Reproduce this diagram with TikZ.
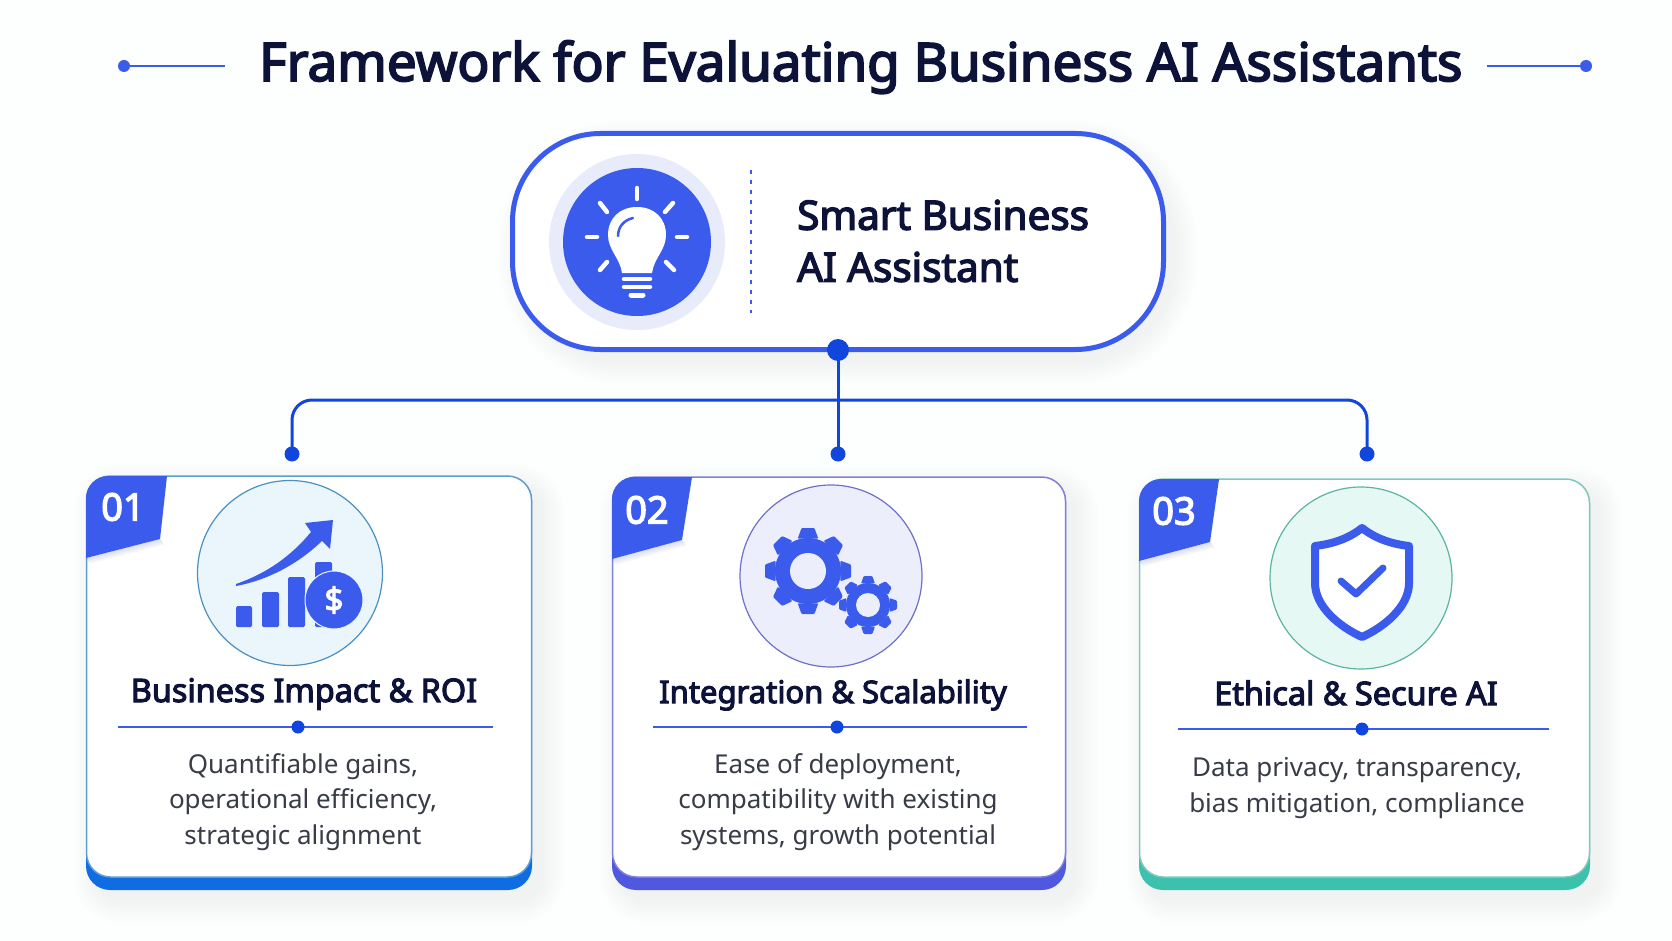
\documentclass[tikz,border=0pt]{standalone}
\usepackage{fontspec}
\setmainfont{Noto Sans}
\newfontfamily\headfont{Noto Sans}[FakeBold=3.4]
\usetikzlibrary{positioning,calc}
\definecolor{bgc}{HTML}{FDFEFE}
\definecolor{mainblue}{HTML}{3A5BEC}
\definecolor{connblue}{HTML}{1146DE}
\definecolor{inktext}{HTML}{0C1238}
\definecolor{bodytext}{HTML}{383C47}
\definecolor{haloc}{HTML}{E8ECFA}
\definecolor{shadowc}{HTML}{5A6A9A}
\definecolor{cardA}{HTML}{5F9FD0}\definecolor{bandA}{HTML}{0F6CE3}\definecolor{discA}{HTML}{EAF6FC}\definecolor{ringA}{HTML}{4A90C0}
\definecolor{cardB}{HTML}{7F7FDC}\definecolor{bandB}{HTML}{5058E0}\definecolor{discB}{HTML}{ECEFFB}\definecolor{ringB}{HTML}{6F6FC8}
\definecolor{cardC}{HTML}{7FC9BC}\definecolor{bandC}{HTML}{3CC1AE}\definecolor{discC}{HTML}{E6F8F3}\definecolor{ringC}{HTML}{5AB5A0}
\newcommand{\softshade}[5]{%
  \foreach \i in {1,...,12}{%
    \pgfmathsetmacro{\rr}{#5+\i*2}%
    \pgfmathsetmacro{\gg}{\i*2}%
    \fill[shadowc,opacity=.0045,rounded corners=\rr pt]
      (#1-\gg+10,#2-\gg+11) rectangle (#3+\gg+10,#4+\gg+11);
  }}
\newcommand{\tabshade}[4]{% lower edge of a number tab
  \foreach \i in {1,...,4}{%
    \fill[shadowc,opacity=.05] (#1,#2) -- (#3,#4) -- (#3+\i*1.2,#4+\i*1.4) -- (#1+\i,#2+\i*1.4) -- cycle;
  }}
\newcommand{\gearicon}[6]{% x y outer root hole colour-of-hole
  \begin{scope}[shift={(#1,#2)}]
    \foreach \a in {0,45,...,315}{%
      \fill[mainblue,rotate=\a,rounded corners=1pt]
        (-#3*.24,-#4*.98) -- (-#3*.15,-#3) -- (#3*.15,-#3) -- (#3*.24,-#4*.98) -- cycle;
    }
    \fill[mainblue] (0,0) circle[radius=#4];
    \fill[#6] (0,0) circle[radius=#5];
  \end{scope}}
\tikzset{
  x=1pt,y=-1pt,
  pagetitle/.style={font=\headfont\fontsize{53}{60}\selectfont,text=inktext,anchor=base west,inner sep=0},
  hubbox/.style={draw=mainblue,line width=5pt,fill=white,rounded corners=88pt,minimum width=651pt,minimum height=216pt,inner sep=0,outer sep=0,anchor=north west},
  hubtext/.style={font=\headfont\fontsize{40.4}{52}\selectfont,text=inktext,align=left,anchor=west,inner sep=0},
  conn/.style={connblue,line width=3pt},
  bigdot/.style={circle,fill=connblue,inner sep=0,minimum size=22pt},
  smalldot/.style={circle,fill=connblue,inner sep=0,minimum size=15pt},
  rulerdot/.style={circle,fill=connblue,inner sep=0,minimum size=13pt},
  titledot/.style={circle,fill=mainblue,inner sep=0,minimum size=12pt},
  titlerule/.style={mainblue,line width=2pt},
  cardrule/.style={mainblue,line width=1.6pt},
  cardband/.style={rounded corners=24pt,inner sep=0,outer sep=0,anchor=north west,minimum height=414pt},
  cardface/.style={fill=white,line width=1.5pt,rounded corners=24pt,inner sep=0,outer sep=0,anchor=north west,minimum height=401pt},
  disc/.style={circle,inner sep=0,minimum size=182pt,line width=1.2pt},
  cardtitle/.style={font=\headfont\fontsize{32.4}{36}\selectfont,text=inktext,anchor=base,inner sep=0},
  carddesc/.style={font=\fontsize{26}{35.3}\selectfont,text=bodytext,align=center,inner sep=0},
  tabnum/.style={font=\headfont\fontsize{38}{40}\selectfont,text=white,inner sep=0},
  ray/.style={white,line width=4.5pt,line cap=round},
}
\begin{document}
\begin{tikzpicture}
\useasboundingbox (0,0) rectangle (1672,941);
\fill[bgc] (0,0) rectangle (1672,941);

% title
\node[pagetitle] (title) at (259,81) {Framework for Evaluating Business AI Assistants};
\node[titledot] (tl) at (124,66) {};
\coordinate (tle) at (225,66);
\draw[titlerule] (tl) -- (tle);
\node[titledot] (tr) at (1586,66) {};
\coordinate (tre) at (1487,66);
\draw[titlerule] (tr) -- (tre);

% hub
\softshade{512}{133}{1164}{350}{100}
\node[hubbox] (hub) at (512.5,133.5) {};
\node[circle,fill=haloc,inner sep=0,minimum size=176pt] (halo) at (637,242) {};
\node[circle,fill=mainblue,inner sep=0,minimum size=148pt] (lamp) at (637,242) {};
% bulb
\fill[white] (622,273) .. controls (620,258) and (608,250) .. (608,235)
   .. controls (608,218) and (620,207) .. (637,207)
   .. controls (654,207) and (666,218) .. (666,235)
   .. controls (666,250) and (654,258) .. (652,273) -- cycle;
\draw[mainblue,line width=2.5pt,line cap=round] (618,236) .. controls (618,227) and (624,220) .. (633,218);
\draw[white,line width=4.5pt,line cap=round] (624,279) -- (650,279);
\draw[white,line width=4.5pt,line cap=round] (624,287) -- (650,287);
\draw[white,line width=5pt,line cap=round] (631,295) -- (643,295);
\draw[ray] (637,188) -- (637,199);
\draw[ray] (587,237) -- (597,237);
\draw[ray] (677,237) -- (687,237);
\draw[ray] (600,203) -- (607,212);
\draw[ray] (673,203) -- (665,212);
\draw[ray] (600,270) -- (607,262);
\draw[ray] (674,270) -- (666,262);
\coordinate (sepA) at (751,170);
\coordinate (sepB) at (751,313);
\draw[mainblue,line width=2pt,dash pattern=on 4pt off 6pt] (sepA) -- (sepB);
\node[hubtext] (hubt) at (797,241) {Smart Business\\AI Assistant};

% connectors
\node[smalldot] (d1) at (292,454) {};
\node[smalldot] (d2) at (838,454) {};
\node[smalldot] (d3) at (1367,454) {};
\node[bigdot] (hubdot) at (838,350) {};
\coordinate (junction) at (838,400);
\draw[conn] (hubdot.center) -- (d2.center);
\draw[conn,rounded corners=20pt] (d1.center) |- (junction) -| (d3.center);

% ---------- card 1
\softshade{87}{477}{531}{889}{24}
\node[cardband,fill=bandA,minimum width=446pt] (band1) at (86,476) {};
\node[cardface,draw=cardA,minimum width=445pt] (card1) at (86.5,476) {};
\tabshade{86}{558}{160}{539}
\fill[mainblue] (86,558) -- (86,498) arc[start angle=180,end angle=270,radius=22] -- (167,476) -- (160,539) -- cycle;
\node[tabnum] (n1) at (123,507) {01};
\node[disc,fill=discA,draw=ringA,minimum size=185pt] (i1) at (290,573) {};
\fill[mainblue,rounded corners=1.5pt] (236,606) rectangle (252,627);
\fill[mainblue,rounded corners=1.5pt] (262,592) rectangle (279,627);
\fill[mainblue,rounded corners=1.5pt] (288,577) rectangle (305,627);
\fill[mainblue,rounded corners=1.5pt] (315,562) rectangle (332,627);
\fill[mainblue] (236,584) .. controls (268,573) and (292,555) .. (311,532)
  -- (305,523) -- (333,520) -- (330,549) -- (322,541)
  .. controls (298,564) and (268,580) .. (236,586) -- cycle;
\node[circle,fill=mainblue,draw=discA,line width=1pt,inner sep=0,minimum size=58pt,font=\headfont\fontsize{33}{33}\selectfont,text=white] (coin) at (334,600) {\$};
\node[cardtitle] (t1) at (304,702) {Business Impact \& ROI};
\coordinate (r1a) at (118,727);
\coordinate (r1b) at (493,727);
\draw[cardrule] (r1a) -- (r1b);
\node[rulerdot] (rd1) at (298,727) {};
\node[carddesc] (b1) at (303,802) {Quantifiable gains,\\operational efficiency,\\strategic alignment};

% ---------- card 2
\softshade{613}{478}{1065}{889}{24}
\node[cardband,fill=bandB,minimum width=454pt,minimum height=413pt] (band2) at (612,477) {};
\node[cardface,draw=cardB,minimum width=453pt,minimum height=400pt] (card2) at (612.5,477) {};
\tabshade{612}{559}{682}{540}
\fill[mainblue] (612,559) -- (612,499) arc[start angle=180,end angle=270,radius=22] -- (692,477) -- (682,540) -- cycle;
\node[tabnum] (n2) at (647,510) {02};
\node[disc,fill=discB,draw=ringB] (i2) at (831,576) {};
\gearicon{808}{571}{43}{33}{18}{discB}
\fill[discB] (868,605) circle[radius=27];
\gearicon{868}{605}{29}{22}{12}{discB}
\node[cardtitle,font=\headfont\fontsize{31}{36}\selectfont] (t2) at (833,703) {Integration \& Scalability};
\coordinate (r2a) at (653,727);
\coordinate (r2b) at (1027,727);
\draw[cardrule] (r2a) -- (r2b);
\node[rulerdot] (rd2) at (837,727) {};
\node[carddesc] (b2) at (838,802) {Ease of deployment,\\compatibility with existing\\systems, growth potential};

% ---------- card 3
\softshade{1140}{480}{1589}{889}{24}
\node[cardband,fill=bandC,minimum width=451pt,minimum height=411pt] (band3) at (1139,479) {};
\node[cardface,draw=cardC,minimum width=450pt,minimum height=398pt] (card3) at (1139.5,479) {};
\tabshade{1139}{561}{1210}{542}
\fill[mainblue] (1139,561) -- (1139,501) arc[start angle=180,end angle=270,radius=22] -- (1219,479) -- (1210,542) -- cycle;
\node[tabnum] (n3) at (1174,511) {03};
\node[disc,fill=discC,draw=ringC] (i3) at (1361,578) {};
\draw[mainblue,line width=8pt,fill=white,line join=round]
  (1362,528) .. controls (1348,539) and (1332,544) .. (1315,546)
  -- (1315,583) .. controls (1315,607) and (1340,627) .. (1362,637)
  .. controls (1384,627) and (1409,607) .. (1409,583) -- (1409,546)
  .. controls (1392,544) and (1376,539) .. (1362,528) -- cycle;
\draw[mainblue,line width=7pt,line cap=round,line join=round] (1341,581) -- (1356,594) -- (1383,568);
\node[cardtitle] (t3) at (1356,705) {Ethical \& Secure AI};
\coordinate (r3a) at (1178,729);
\coordinate (r3b) at (1549,729);
\draw[cardrule] (r3a) -- (r3b);
\node[rulerdot] (rd3) at (1362,729) {};
\node[carddesc] (b3) at (1357,788) {Data privacy, transparency,\\bias mitigation, compliance};
\end{tikzpicture}
\end{document}
